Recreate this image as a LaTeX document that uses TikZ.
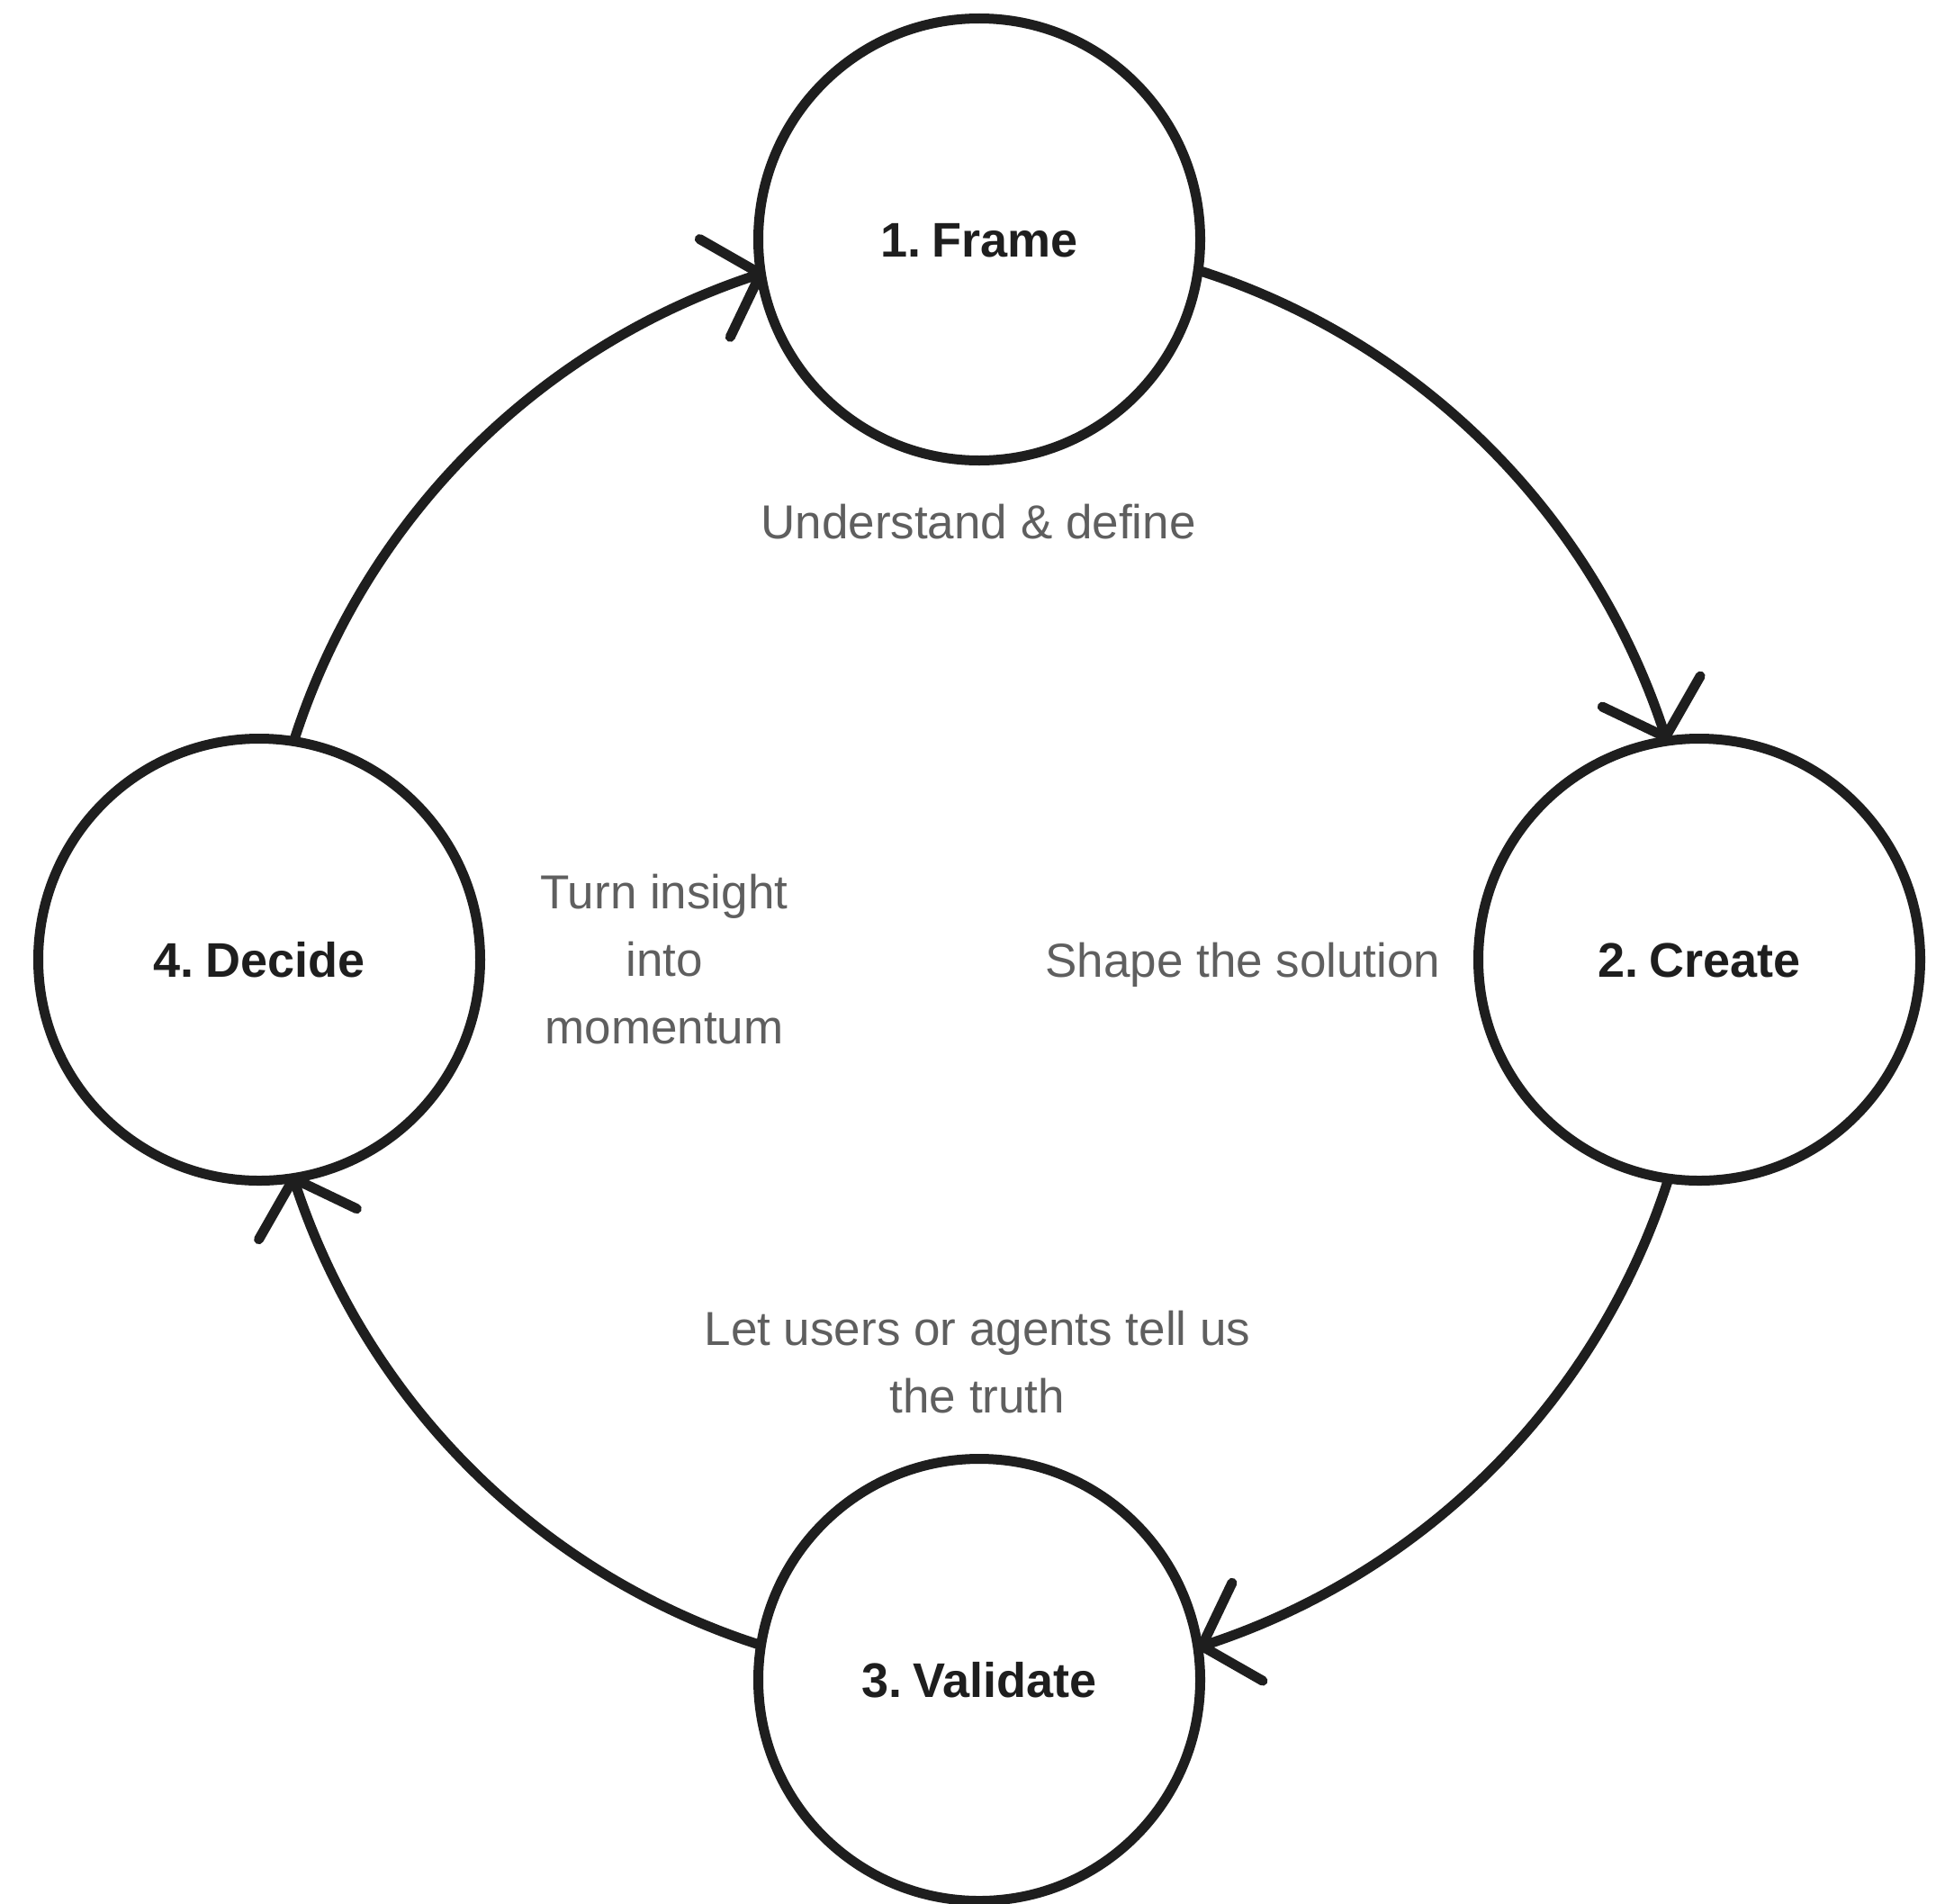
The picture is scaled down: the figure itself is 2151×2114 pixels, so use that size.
\documentclass[tikz,border=0pt]{standalone}
\usepackage{fontspec}
\setmainfont{Liberation Sans}
\newfontfamily\stagefont[WordSpace=0.5]{Liberation Sans}
\usetikzlibrary{arrows.meta,bending}
\definecolor{ink}{HTML}{1E1E1E}
\definecolor{notegray}{HTML}{5F5F5F}
\begin{document}
\begin{tikzpicture}[x=0.5pt,y=-0.5pt,
  stage/.style={circle, draw=ink, line width=5.5pt, minimum size=245.5pt,
    inner sep=0pt, outer sep=0pt, text=ink,
    font=\stagefont\fontsize{27}{32}\selectfont\bfseries,
    text height=19.5pt, text depth=0pt},
  flow/.style={draw=ink, line width=5.5pt,
    -{Straight Barb[length=26.5pt,width=57pt,round,flex]}},
  note/.style={text=notegray, font=\fontsize{26.5}{37.5}\selectfont,
    align=center, anchor=base, inner sep=0pt}]
\useasboundingbox (0,0) rectangle (2151,2114);

% the four stages, on a ring of radius 800 around (1088,1066)
\node[stage] (frame)    at (1088,266)  {1. Frame};
\node[stage] (create)   at (1888,1066) {2. Create};
\node[stage] (validate) at (1088,1866) {3. Validate};
\node[stage] (decide)   at (288,1066)  {4. Decide};

% clockwise arcs along the ring, from one stage to the next
\draw[flow] (frame.-8.825)     arc[start angle=72.35,   end angle=17.35,   radius=400pt];
\draw[flow] (create.-98.825)   arc[start angle=-17.65,  end angle=-72.65,  radius=400pt];
\draw[flow] (validate.171.175) arc[start angle=-107.65, end angle=-162.65, radius=400pt];
\draw[flow] (decide.81.175)    arc[start angle=162.35,  end angle=107.35,  radius=400pt];

% descriptions
\node[note] (ndefine)  at (1087,598)  {Understand \& define};
\node[note] (nshape)   at (1381,1085) {Shape the solution};
\node[note] (ntruth)   at (1086,1569) {Let users or agents tell us\\the truth};
\node[note] (nmoment)  at (738,1159)  {Turn insight\\into\\momentum};
\end{tikzpicture}
\end{document}
